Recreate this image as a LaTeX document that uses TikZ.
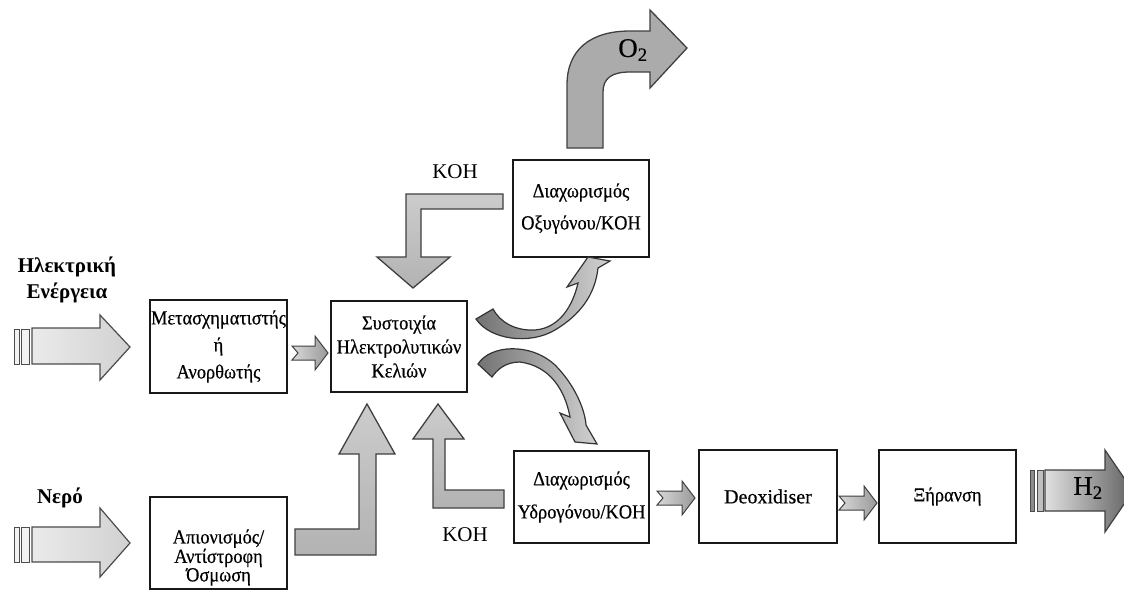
\documentclass[tikz,border=0pt]{standalone}
\usepackage{fontspec}
\setmainfont{Liberation Serif}
\newfontfamily\boxfont[FakeStretch=0.92,FakeBold=0.4]{Liberation Serif}
\newfontfamily\latfont[FakeBold=0.4]{Liberation Serif}
\usetikzlibrary{calc}
\newcommand\notcharr[3]{%
  \draw[smallarr] (#1,#2-7) -- (#3-13,#2-7) -- (#3-13,#2-17) -- (#3,#2) -- (#3-13,#2+17) -- (#3-13,#2+7) -- (#1,#2+7) -- (#1+6,#2) -- cycle;}
\begin{document}
\begin{tikzpicture}[x=1pt,y=-1pt,
  blk/.style={draw=black!90, line width=2pt, fill=white, inner sep=0pt, align=center, font=\boxfont\fontsize{20}{27}\selectfont},
  blockarr/.style={draw=black!75, line width=1.3pt, line join=miter, top color=black!20, bottom color=black!30},
  smallarr/.style={draw=black!75, line width=1pt, line join=miter, left color=black!15, right color=black!40},
  inarr/.style={draw=black!70, line width=1.2pt, line join=miter, left color=black!8, right color=black!18},
  bar/.style={draw=black!70, line width=1pt, fill=black!5},
  curvarr/.style={draw=black!80, line width=1.2pt, left color=black!55, right color=black!18},
  lbl/.style={font=\fontsize{21}{26}\selectfont, align=center, inner sep=0pt},
  biglbl/.style={font=\latfont\fontsize{27}{30}\selectfont, inner sep=0pt}
]
\useasboundingbox (0,0) rectangle (1124,590);
\clip (0,0) rectangle (1124,590);
\fill[white] (0,0) rectangle (1124,590);

% boxes
\node[blk, minimum width=137, minimum height=93] (m) at (218.5,346.5) {Μετασχηματιστής\\ή\\Ανορθωτής};
\node[blk, minimum width=136, minimum height=91, font=\boxfont\fontsize{20}{24}\selectfont] (s) at (399,346.5) {Συστοιχία\\Ηλεκτρολυτικών\\Κελιών};
\node[blk, minimum width=136, minimum height=97, font=\boxfont\fontsize{20}{32}\selectfont] (ox) at (581,208.5) {Διαχωρισμός\\Οξυγόνου/KOH};
\node[blk, minimum width=135, minimum height=92, font=\boxfont\fontsize{20}{33}\selectfont] (hy) at (581.5,497) {Διαχωρισμός\\Υδρογόνου/KOH};
\node[blk, minimum width=138, minimum height=93, font=\latfont\fontsize{20}{27}\selectfont] (de) at (768,496.5) {Deoxidiser};
\node[blk, minimum width=137, minimum height=93] (xe) at (947.5,496.5) {Ξήρανση};
\node[blk, minimum width=137, minimum height=92] (ap) at (218.5,542.5) {};
\node[align=center, inner sep=0pt, font=\boxfont\fontsize{20}{15.5}\selectfont] (apt) at ($(ap.center)+(0,15)$) {Απιονισμός/\\Αντίστροφη\\Όσμωση};

% labels
\node[lbl, font=\bfseries\fontsize{21}{26}\selectfont] (el) at (67,280) {Ηλεκτρική\\Ενέργεια};
\node[lbl, font=\bfseries\fontsize{21}{26}\selectfont] (ne) at (60,498) {Νερό};
\node[lbl] (koh1) at (455,172) {KOH};
\node[lbl] (koh2) at (465,535) {KOH};

% input arrows
\draw[bar] (14,329) rectangle (19,364);
\draw[bar] (21,329) rectangle (29,364);
\draw[inarr] (32,328) -- (100,328) -- (100,315) -- (130,347) -- (100,380) -- (100,364) -- (32,364) -- cycle;
\draw[bar] (14,527) rectangle (19,562);
\draw[bar] (21,527) rectangle (29,562);
\draw[inarr] (32,527) -- (100,527) -- (100,508) -- (130,543) -- (100,577) -- (100,562) -- (32,562) -- cycle;

% small arrows
\notcharr{292}{353}{328}
\notcharr{657}{498}{695}
\notcharr{839}{503}{877}

% L arrows
\draw[blockarr] (295,529) -- (359,529) -- (359,454) -- (339,454) -- (367,404) -- (395,454) -- (376,454) -- (376,555) -- (295,555) -- cycle;
\draw[blockarr] (504,490) -- (445,490) -- (445,439) -- (464,439) -- (438,404) -- (413,439) -- (433,439) -- (433,508) -- (504,508) -- cycle;
\draw[blockarr] (503,194) -- (406,194) -- (406,257) -- (377,257) -- (413,288) -- (450,257) -- (421,257) -- (421,209) -- (503,209) -- cycle;

% O2 arrow
\draw[draw=black!75, line width=1.3pt, line join=miter, fill=black!33]
  (567,148) -- (567,85) .. controls (567,50) and (590,31) .. (630,31) -- (650,31) -- (650,10) -- (687,48) -- (650,88) -- (650,72) -- (630,72) .. controls (612,72) and (603,78) .. (603,92) -- (603,148) -- cycle;
\node[biglbl] (o2) at (633,50) {O\textsubscript{2}};

% curved arrows
\draw[curvarr] (476,319) .. controls (490,340) and (530,345) .. (555,330) .. controls (580,315) and (595,295) .. (598,268) -- (610,261) -- (588,257) -- (567,287) -- (578,283) .. controls (573,305) and (560,328) .. (535,330) .. controls (515,331) and (500,322) .. (493,309) -- cycle;
\draw[curvarr] (478,364) .. controls (490,345) and (530,342) .. (555,365) .. controls (575,385) and (585,410) .. (586,425) -- (597,444) -- (575,442) -- (560,413) -- (570,417) .. controls (565,390) and (550,366) .. (520,362) .. controls (505,362) and (497,370) .. (492,377) -- cycle;

% H2 arrow
\draw[draw=black!70, line width=1pt, fill=black!45] (1030,470) rectangle (1034,511);
\draw[draw=black!70, line width=1pt, fill=black!25] (1037,470) rectangle (1043,511);
\draw[draw=black!75, line width=1.2pt, line join=miter, left color=black!12, right color=black!62]
  (1045,470) -- (1105,470) -- (1105,450) -- (1133,491) -- (1105,532) -- (1105,511) -- (1045,511) -- cycle;
\node[biglbl] (h2) at (1088,488) {H\textsubscript{2}};
\end{tikzpicture}
\end{document}
